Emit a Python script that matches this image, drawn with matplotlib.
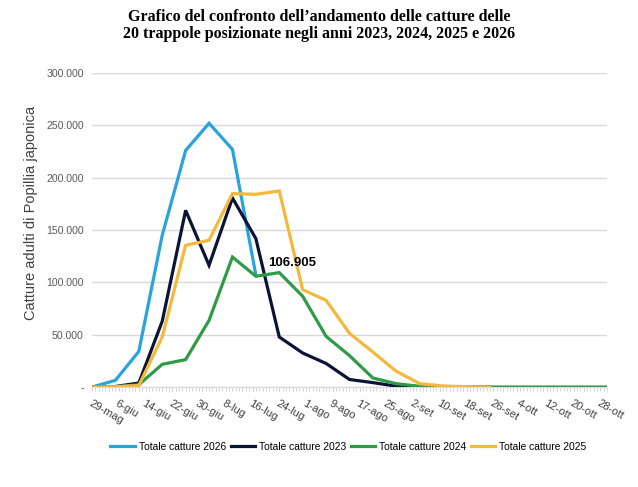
import matplotlib.pyplot as plt
from matplotlib.ticker import FuncFormatter, MultipleLocator

# x axis: days from 29 May, data are weekly
tick_days   = list(range(0, 153, 8))
tick_labels = ["29-mag", "6-giu", "14-giu", "22-giu", "30-giu", "8-lug", "16-lug",
               "24-lug", "1-ago", "9-ago", "17-ago", "25-ago", "2-set", "10-set",
               "18-set", "26-set", "4-ott", "12-ott", "20-ott", "28-ott"]
week_days = list(range(0, 155, 7))

# catture (migliaia)
c2026 = [0, 6.4, 34, 145, 226, 252, 227, 106.905]
c2023 = [0, 0.5, 3.8, 62.8, 168.8, 116.3, 180.6, 141.8, 47.8, 32.5, 22.5, 7.2,
         4.2, 0.8, 0.2, 0, 0, 0]
c2024 = [0, 0.2, 2.2, 21.7, 26.2, 63.7, 124.2, 105.8, 109.3, 86.7, 48.4, 30,
         8.6, 3.2, 0.7, 0, 0, 0, 0, 0, 0, 0, 0]
c2025 = [0, 0.3, 1.5, 47.8, 135.4, 140.2, 184.8, 184.1, 187.3, 93, 82.8, 51.3,
         33.4, 15, 3.2, 1, 0.3, 0]

series = [
    ("Totale catture 2026", c2026, "#2AA3DC"),
    ("Totale catture 2023", c2023, "#0B1437"),
    ("Totale catture 2024", c2024, "#2E9B47"),
    ("Totale catture 2025", c2025, "#F2B93B"),
]

fig = plt.figure(figsize=(6.38, 4.87), dpi=100)
ax = fig.add_axes([0.1442, 0.2053, 0.8072, 0.6448])

for name, vals, col in series:
    ax.plot(week_days[:len(vals)], [v * 1000 for v in vals], color=col,
            lw=2.3, label=name, solid_joinstyle="miter")

# data label on the last 2026 point
ax.annotate("106.905", (week_days[len(c2026) - 1], c2026[-1] * 1000),
            xytext=(36, 12), textcoords="offset pixels", ha="center", va="center",
            fontsize=9.5, fontweight="bold", family="Liberation Sans")

ax.set_xlim(0, 154)
ax.set_ylim(0, 300000)
ax.yaxis.set_major_locator(MultipleLocator(50000))
ax.yaxis.set_major_formatter(FuncFormatter(
    lambda v, p: "-" if v == 0 else f"{int(v):,}".replace(",", ".")))
ax.grid(axis="y", color="#d9d9d9", lw=1)
ax.set_axisbelow(True)

ax.set_xticks(tick_days)
ax.set_xticklabels(tick_labels, rotation=-30, ha="left", va="top",
                   rotation_mode="anchor")
ax.xaxis.set_minor_locator(MultipleLocator(1))
ax.tick_params(axis="x", which="both", length=3, color="#d0d0d0", labelsize=8,
               labelcolor="#404040", pad=5)
ax.tick_params(axis="y", length=0, labelsize=7.6, labelcolor="#595959", pad=6)
for lab in ax.get_xticklabels() + ax.get_yticklabels():
    lab.set_family("Liberation Sans")

for s in ["top", "right", "left"]:
    ax.spines[s].set_visible(False)
ax.spines["bottom"].set_color("#d9d9d9")

ax.set_ylabel("Catture adulti di Popillia japonica", fontsize=10.5,
              family="Liberation Sans", color="#404040")
ax.yaxis.set_label_coords(-0.105, 0.554)

fig.suptitle("Grafico del confronto dell\u2019andamento delle catture delle\n"
             "20 trappole posizionate negli anni 2023, 2024, 2025 e 2026",
             x=0.5, y=0.982, fontsize=11.5, fontweight="bold",
             family="Liberation Serif", linespacing=1.1)

fig.legend(loc="center", bbox_to_anchor=(0.546, 0.082), ncol=4, frameon=False,
           prop={"family": "Liberation Sans", "size": 7.4}, handlelength=2.4,
           columnspacing=0.45, handletextpad=0.35)

fig.savefig("out.png", dpi=100)
